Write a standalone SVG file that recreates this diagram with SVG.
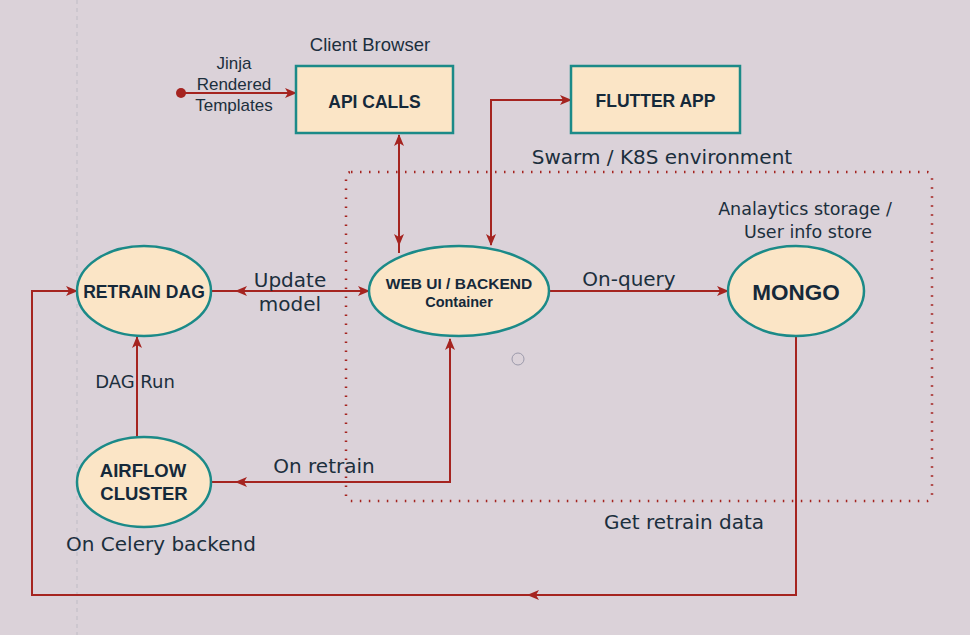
<svg xmlns="http://www.w3.org/2000/svg" width="970" height="635" viewBox="0 0 970 635">
<defs>
<style>
.bg{fill:#dbd2d9}
.node{fill:#fbe5c6;stroke:#1b8a88;stroke-width:2.5}
.lbl{font-family:"DejaVu Sans",Verdana,sans-serif;fill:#1c2f3d}
.sans{font-family:"Liberation Sans",Arial,sans-serif;fill:#1c2f3d}
.bold{font-family:"Liberation Sans",Arial,sans-serif;font-weight:bold;fill:#15293a}
.edge{fill:none;stroke:#a52420;stroke-width:2}
</style>
<marker id="arr" viewBox="0 0 12 10" refX="11" refY="5" markerWidth="12" markerHeight="10" markerUnits="userSpaceOnUse" orient="auto-start-reverse">
<path d="M0,0 L12,5 L0,10 L3,5 Z" fill="#a52420"/>
</marker>
</defs>
<rect class="bg" x="0" y="0" width="970" height="635"/>
<line x1="77" y1="0" x2="77" y2="635" stroke="#c9c4cc" stroke-width="1.5" stroke-dasharray="4 4"/>

<g id="environment">
<rect x="346" y="172" width="586" height="329" rx="5" fill="none" stroke="#a52420" stroke-width="2.5" stroke-dasharray="1.5 7.5"/>
<text class="lbl" x="662" y="164" font-size="20" text-anchor="middle">Swarm / K8S environment</text>
</g>

<g id="connectors">
<circle cx="181" cy="93" r="5" fill="#a52420"/>
<path class="edge" d="M181,93 L296,93" marker-end="url(#arr)"/>
<path class="edge" d="M399,135 L399,245" marker-start="url(#arr)" marker-end="url(#arr)"/>
<path class="edge" d="M399,245 L399,253"/>
<path class="edge" d="M491,245 L491,100 L571,100" marker-start="url(#arr)" marker-end="url(#arr)"/>
<path class="edge" d="M211,291 L236,291"/>
<path class="edge" d="M236,291 L369,291" marker-start="url(#arr)" marker-end="url(#arr)"/>
<path class="edge" d="M549,291 L728,291" marker-end="url(#arr)"/>
<path class="edge" d="M137,437 L137,337" marker-end="url(#arr)"/>
<path class="edge" d="M211,482 L236,482"/>
<path class="edge" d="M236,482 L450,482 L450,339" marker-start="url(#arr)" marker-end="url(#arr)"/>
<path class="edge" d="M796,337 L796,595 L528,595" marker-end="url(#arr)"/>
<path class="edge" d="M528,595 L32,595 L32,291 L77,291" marker-end="url(#arr)"/>
</g>

<g id="edge-labels">
<text class="sans" x="234" y="69" font-size="17" text-anchor="middle">Jinja</text>
<text class="sans" x="234" y="90" font-size="17" text-anchor="middle">Rendered</text>
<text class="sans" x="234" y="111" font-size="17" text-anchor="middle">Templates</text>
<text class="lbl" x="290" y="287" font-size="20" text-anchor="middle">Update</text>
<text class="lbl" x="290" y="311" font-size="20" text-anchor="middle">model</text>
<text class="lbl" x="629" y="286" font-size="20" text-anchor="middle">On-query</text>
<text class="lbl" x="135" y="388" font-size="18" text-anchor="middle">DAG Run</text>
<text class="lbl" x="324" y="473" font-size="20" text-anchor="middle">On retrain</text>
<text class="lbl" x="684" y="529" font-size="20" text-anchor="middle">Get retrain data</text>
</g>

<g id="api-calls">
<text class="sans" x="370" y="51" font-size="18.5" text-anchor="middle">Client Browser</text>
<rect class="node" x="296" y="66" width="157" height="67"/>
<text class="bold" x="374.5" y="108" font-size="17.5" text-anchor="middle">API CALLS</text>
</g>

<g id="flutter-app">
<rect class="node" x="571" y="66" width="169" height="67"/>
<text class="bold" x="655.5" y="107" font-size="17.5" text-anchor="middle">FLUTTER APP</text>
</g>

<g id="retrain-dag">
<ellipse class="node" cx="144" cy="291" rx="67" ry="45"/>
<text class="bold" x="144" y="298" font-size="17.5" text-anchor="middle">RETRAIN DAG</text>
</g>

<g id="web-ui-backend">
<ellipse class="node" cx="459" cy="291" rx="90" ry="45"/>
<text class="bold" x="459" y="289" font-size="15.5" text-anchor="middle">WEB UI / BACKEND</text>
<text class="bold" x="459" y="307" font-size="14.5" text-anchor="middle">Container</text>
</g>

<g id="mongo">
<text class="lbl" x="805" y="215" font-size="17.5" text-anchor="middle">Analaytics storage /</text>
<text class="lbl" x="808" y="238" font-size="17.5" text-anchor="middle">User info store</text>
<ellipse class="node" cx="796" cy="291" rx="68" ry="45"/>
<text class="bold" x="796" y="300" font-size="22.5" text-anchor="middle">MONGO</text>
</g>

<g id="airflow-cluster">
<ellipse class="node" cx="144" cy="482" rx="67" ry="45"/>
<text class="bold" x="143" y="477" font-size="18.5" text-anchor="middle">AIRFLOW</text>
<text class="bold" x="144" y="500" font-size="18.5" text-anchor="middle">CLUSTER</text>
<text class="lbl" x="161" y="551" font-size="20" text-anchor="middle">On Celery backend</text>
</g>

<circle cx="518" cy="359" r="6" fill="none" stroke="#9c9aab" stroke-width="1"/>
</svg>
